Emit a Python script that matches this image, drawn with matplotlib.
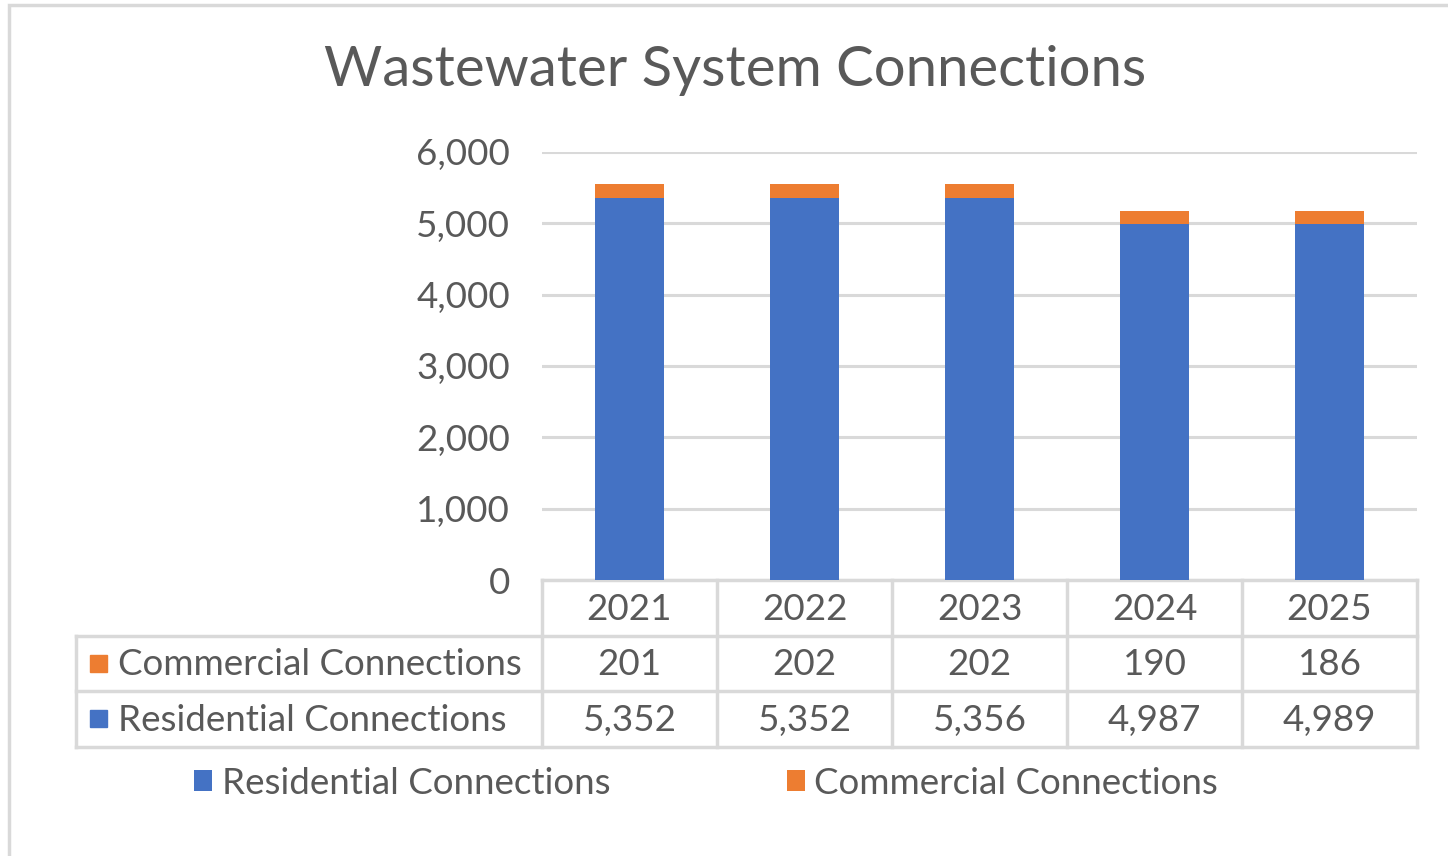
import matplotlib.pyplot as plt
from matplotlib.patches import Rectangle
from matplotlib.lines import Line2D
import matplotlib.transforms as mtransforms

plt.rcParams['font.family'] = ['Lato', 'DejaVu Sans']

years = ['2021', '2022', '2023', '2024', '2025']
residential = [5352, 5352, 5356, 4987, 4989]
commercial = [201, 202, 202, 190, 186]

blue = '#4472C4'
orange = '#ED7D31'
text_col = '#595959'
line_col = '#D9D9D9'

W, H = 1448, 856
fig = plt.figure(figsize=(W / 100, H / 100), dpi=100)

# outer chart border (cut off on the right and bottom)
fig.patches.append(Rectangle((9 / W, -0.1), 1.2, 1 - 5 / H + 0.1, transform=fig.transFigure,
                             fill=False, edgecolor=line_col, linewidth=2.5))

ax = fig.add_axes([542 / W, 1 - 580 / H, 875 / W, 428 / H])
x = range(len(years))
b1 = ax.bar(x, residential, width=0.39, color=blue, zorder=3)
b2 = ax.bar(x, commercial, width=0.39, bottom=residential, color=orange, zorder=3)

fs = 26.5
ax.set_xlim(-0.5, len(years) - 0.5)
ax.set_ylim(0, 6000)
ax.set_yticks(range(0, 6001, 1000))
ax.set_yticklabels([f'{v:,}' for v in range(0, 6001, 1000)])
ax.tick_params(axis='y', length=0, pad=23, labelsize=fs, labelcolor=text_col)
ax.set_xticks([])
ax.grid(axis='y', color=line_col, linewidth=2.2, zorder=0)
for s in ax.spines.values():
    s.set_visible(False)

# data table below the plot
tr = mtransforms.blended_transform_factory(ax.transData, ax.transAxes)
row_h = 55.5 / 428
y_rows = [0, -row_h, -2 * row_h, -3 * row_h]
left_x = -0.5 - 466 / 175
right_x = len(years) - 0.5
lw = 2.5
for i, yy in enumerate(y_rows):
    x0 = -0.5 if i == 0 else left_x
    ax.add_line(Line2D([x0, right_x], [yy, yy], transform=tr, color=line_col, lw=lw, clip_on=False))
for k in range(len(years) + 1):
    ax.add_line(Line2D([k - 0.5, k - 0.5], [0, y_rows[-1]], transform=tr, color=line_col, lw=lw, clip_on=False))
ax.add_line(Line2D([left_x, left_x], [y_rows[1], y_rows[-1]], transform=tr, color=line_col, lw=lw, clip_on=False))

for k, yr in enumerate(years):
    ax.text(k, (y_rows[0] + y_rows[1]) / 2 - 0.004, yr, transform=tr, ha='center', va='center',
            fontsize=fs, color=text_col)
    ax.text(k, (y_rows[1] + y_rows[2]) / 2 - 0.004, f'{commercial[k]:,}', transform=tr, ha='center',
            va='center', fontsize=fs, color=text_col)
    ax.text(k, (y_rows[2] + y_rows[3]) / 2 - 0.004, f'{residential[k]:,}', transform=tr, ha='center',
            va='center', fontsize=fs, color=text_col)

row_labels = [('Commercial Connections', orange), ('Residential Connections', blue)]
for j, (lab, col) in enumerate(row_labels):
    yc = (y_rows[j + 1] + y_rows[j + 2]) / 2
    sq = 17 / 428
    ax.add_patch(Rectangle((left_x + 14 / 175, yc - sq / 2), 17 / 175, sq, transform=tr,
                           color=col, clip_on=False))
    ax.text(left_x + 42 / 175, yc - 0.004, lab, transform=tr, ha='left', va='center',
            fontsize=fs, color=text_col)

fig.text(735 / W, 1 - 71 / H, 'Wastewater System Connections', ha='center', va='center',
         fontsize=40.5, color=text_col)

fig.legend([b1, b2], ['Residential Connections', 'Commercial Connections'], ncol=2,
           loc='center', bbox_to_anchor=(706 / W, 1 - 783 / H), frameon=False,
           fontsize=fs, labelcolor=text_col, handlelength=0.5, handleheight=0.5,
           handletextpad=0.25, columnspacing=4.8)

fig.savefig('out.png', dpi=100)
